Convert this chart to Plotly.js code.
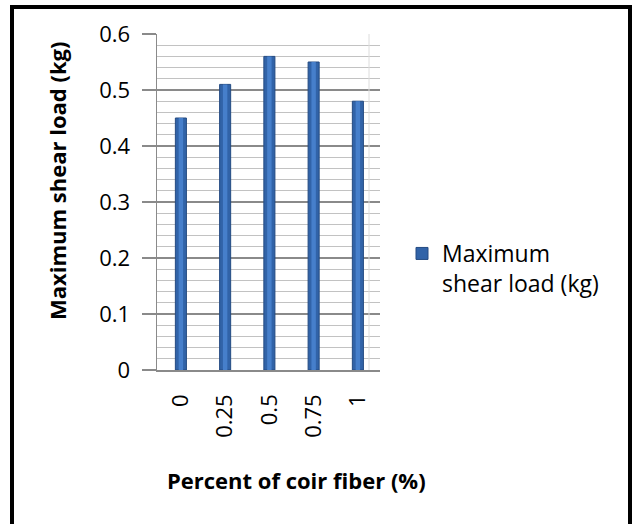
<!DOCTYPE html>
<html>
<head>
<meta charset="utf-8">
<script src="https://cdn.plot.ly/plotly-3.0.1.min.js"></script>
<style>
  html, body { margin: 0; padding: 0; background: #ffffff; }
  #chart { width: 632px; height: 524px; }
</style>
</head>
<body>
<div id="chart"></div>
<script>
// Coir fiber content (%) and the maximum shear load measured for each mix
const fiberPercent = ["0", "0.25", "0.5", "0.75", "1"];
const maxShearLoad = [0.45, 0.51, 0.56, 0.55, 0.48];
const seriesName = "Maximum<br>shear load (kg)";
const yTickValues = [0, 0.1, 0.2, 0.3, 0.4, 0.5, 0.6];
const yTickLabels = ["0", "0.1", "0.2", "0.3", "0.4", "0.5", "0.6"];
const xTitle = "Percent of coir fiber (%)";
const yTitle = "Maximum shear load (kg)";

const FONT = "'Open Sans', 'Noto Sans', sans-serif";

// plot box in pixels, used to place the frame and titles in paper units
const W = 632, H = 524;
const M = { l: 157, r: 252, t: 34, b: 154 };
const pw = W - M.l - M.r, ph = H - M.t - M.b;
const px = v => (v - M.l) / pw;
const py = v => (H - M.b - v) / ph;

const columns = {
  type: "bar",
  x: fiberPercent,
  y: maxShearLoad,
  name: seriesName,
  width: 0.25,
  marker: { color: "#3163a8", line: { color: "#244b82", width: 1 } },
  hoverinfo: "x+y"
};

// lighter core stripe giving the columns their rounded look
const highlight = {
  type: "bar",
  x: fiberPercent,
  y: maxShearLoad,
  width: 0.1,
  showlegend: false,
  hoverinfo: "skip",
  marker: { color: "#467fcb", line: { width: 0 } }
};

const layout = {
  width: W,
  height: H,
  margin: M,
  paper_bgcolor: "#ffffff",
  plot_bgcolor: "#ffffff",
  barmode: "overlay",
  font: { family: FONT, color: "#000000", size: 22 },
  showlegend: true,
  legend: {
    x: px(402), xanchor: "left",
    y: py(232), yanchor: "top",
    valign: "top",
    font: { family: FONT, size: 23, color: "#000000" },
    bgcolor: "rgba(0,0,0,0)"
  },
  xaxis: {
    type: "category",
    range: [-0.54, 4.5],
    showgrid: false,
    zeroline: false,
    showline: true,
    linecolor: "#8a8a8a",
    linewidth: 1.5,
    ticks: "",
    tickangle: -90,
    ticklabelstandoff: 14,
    tickfont: { family: FONT, size: 22, color: "#000000" },
    fixedrange: true
  },
  yaxis: {
    range: [0, 0.6],
    tickvals: yTickValues,
    ticktext: yTickLabels,
    showline: true,
    linecolor: "#8a8a8a",
    linewidth: 1.5,
    ticks: "outside",
    ticklen: 14,
    tickcolor: "#8a8a8a",
    tickwidth: 1.5,
    ticklabelstandoff: 7,
    tickfont: { family: FONT, size: 22, color: "#000000" },
    showgrid: true,
    gridcolor: "#8a8a8a",
    gridwidth: 1.5,
    zeroline: false,
    minor: { dtick: 0.02, showgrid: true, gridcolor: "#c2c2c2", gridwidth: 1 },
    fixedrange: true
  },
  annotations: [
    {
      text: "<b>" + yTitle + "</b>",
      xref: "paper", yref: "paper",
      x: px(57), y: py(181),
      xanchor: "center", yanchor: "middle",
      textangle: -90,
      showarrow: false,
      font: { family: FONT, size: 22, color: "#000000" }
    },
    {
      text: "<b>" + xTitle + "</b>",
      xref: "paper", yref: "paper",
      x: px(296), y: py(480),
      xanchor: "center", yanchor: "middle",
      showarrow: false,
      font: { family: FONT, size: 22, color: "#000000" }
    }
  ],
  shapes: [
    // floor edge reaching forward past the back wall
    { type: "line", xref: "paper", yref: "paper", x0: px(149), x1: 0, y0: 0, y1: 0,
      line: { color: "#8a8a8a", width: 1.5 } },
    // far edge of the back wall
    { type: "line", xref: "paper", yref: "paper", x0: px(369), x1: px(369), y0: 0, y1: 1,
      line: { color: "#dcdcdc", width: 1 } },
    // black frame around the figure
    { type: "rect", xref: "paper", yref: "paper",
      x0: px(12), x1: px(630), y0: py(560), y1: py(7),
      line: { color: "#000000", width: 4 }, fillcolor: "rgba(0,0,0,0)" }
  ]
};

Plotly.newPlot("chart", [columns, highlight], layout, { displayModeBar: false, staticPlot: true });
</script>
</body>
</html>
